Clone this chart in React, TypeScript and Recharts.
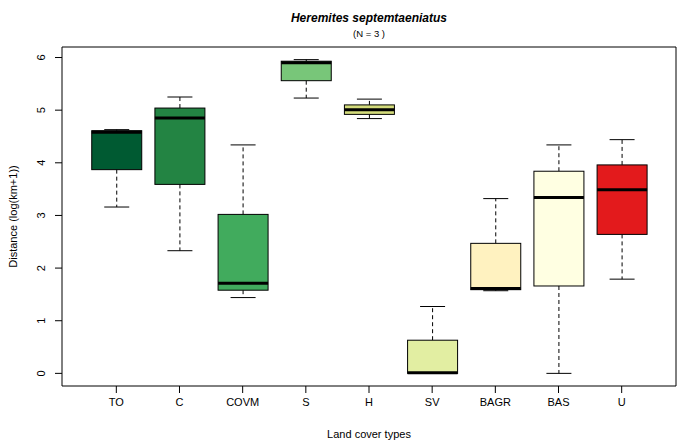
import React from 'react';
import { ComposedChart, Bar, XAxis, YAxis, ReferenceArea } from 'recharts';

const categories = ['TO', 'C', 'COVM', 'S', 'H', 'SV', 'BAGR', 'BAS', 'U'];
const mins = [3.16, 2.33, 1.44, 5.23, 4.84, 0.0, 1.57, 0.0, 1.79];
const q1s = [3.87, 3.59, 1.58, 5.56, 4.92, 0.0, 1.59, 1.66, 2.64];
const medians = [4.58, 4.85, 1.71, 5.9, 5.01, 0.01, 1.61, 3.34, 3.49];
const q3s = [4.61, 5.04, 3.02, 5.93, 5.1, 0.63, 2.47, 3.84, 3.96];
const maxs = [4.63, 5.25, 4.34, 5.96, 5.21, 1.27, 3.32, 4.34, 4.44];
const colors = ['#005a32', '#238443', '#41ab5d', '#78c679', '#d4dc7c', '#e2eea2', '#fff2c0', '#ffffe2', '#e31a1c'];
const yTicks = [0, 1, 2, 3, 4, 5, 6];
const xTicks = [1, 2, 3, 4, 5, 6, 7, 8, 9];

const title = 'Heremites septemtaeniatus';
const subtitle = '(N = 3 )';
const xTitle = 'Land cover types';
const yTitle = 'Distance (log(km+1))';

const data = categories.map((name, i) => ({
  name,
  pos: i + 1,
  range: [mins[i], maxs[i]],
  min: mins[i],
  q1: q1s[i],
  median: medians[i],
  q3: q3s[i],
  max: maxs[i],
  color: colors[i],
}));

const FONT = 'Liberation Sans, Arial, Helvetica, sans-serif';

const BoxShape = (props: any) => {
  const { x, y, width, height, payload } = props;
  if (!payload) return null;
  const { min, q1, median, q3, max, color } = payload;
  const span = max - min;
  const py = (v: number) => (span === 0 ? y : y + ((max - v) / span) * height);
  const cx = x + width / 2;
  const capHalf = width / 4;
  const yMax = py(max);
  const yMin = py(min);
  const yQ1 = py(q1);
  const yQ3 = py(q3);
  const yMed = py(median);
  return (
    <g>
      <line x1={cx} x2={cx} y1={yQ3} y2={yMax} stroke="#000" strokeWidth={1} strokeDasharray="4 3" />
      <line x1={cx} x2={cx} y1={yQ1} y2={yMin} stroke="#000" strokeWidth={1} strokeDasharray="4 3" />
      <line x1={cx - capHalf} x2={cx + capHalf} y1={yMax} y2={yMax} stroke="#000" strokeWidth={1} />
      <line x1={cx - capHalf} x2={cx + capHalf} y1={yMin} y2={yMin} stroke="#000" strokeWidth={1} />
      <rect x={x} y={yQ3} width={width} height={Math.max(yQ1 - yQ3, 0)} fill={color} stroke="#000" strokeWidth={1} />
      <line x1={x} x2={x + width} y1={yMed} y2={yMed} stroke="#000" strokeWidth={3} />
    </g>
  );
};

const YTick = (props: any) => {
  const { x, y, payload } = props;
  const bx = x - 8;
  return (
    <text x={bx} y={y} transform={`rotate(-90, ${bx}, ${y})`} textAnchor="middle" fontSize={11} fontFamily={FONT} fill="#000">
      {payload.value}
    </text>
  );
};

const XTick = (props: any) => {
  const { x, y, payload } = props;
  return (
    <text x={x} y={y + 11} textAnchor="middle" fontSize={11} fontFamily={FONT} fill="#000">
      {categories[payload.value - 1]}
    </text>
  );
};

const YLabel = (props: any) => {
  const { viewBox } = props;
  const lx = 17;
  const ly = viewBox.y + viewBox.height / 2;
  return (
    <text x={lx} y={ly} transform={`rotate(-90, ${lx}, ${ly})`} textAnchor="middle" fontSize={11} fontFamily={FONT} fill="#000">
      {yTitle}
    </text>
  );
};

const XLabel = (props: any) => {
  const { viewBox } = props;
  const lx = viewBox.x + viewBox.width / 2;
  return (
    <text x={lx} y={437.5} textAnchor="middle" fontSize={11} fontFamily={FONT} fill="#000">
      {xTitle}
    </text>
  );
};

export default function App() {
  return (
    <div style={{ position: 'absolute', left: 0, top: 0, width: 677, height: 441, background: '#fff' }}>
      <div style={{ position: 'absolute', left: 62, width: 614, top: 11, textAlign: 'center', fontFamily: FONT, fontSize: 12, fontWeight: 'bold', fontStyle: 'italic', lineHeight: '14px' }}>
        {title}
      </div>
      <div style={{ position: 'absolute', left: 62, width: 614, top: 28, textAlign: 'center', fontFamily: FONT, fontSize: 9.5, lineHeight: '12px' }}>
        {subtitle}
      </div>
      <ComposedChart
        width={677}
        height={441}
        data={data}
        margin={{ top: 47, right: 1, bottom: 0, left: 0 }}
        barCategoryGap={0}
      >
        <XAxis
          type="number"
          dataKey="pos"
          domain={[0.14, 9.86]}
          ticks={xTicks}
          allowDataOverflow
          height={55}
          tickSize={7}
          tickLine={{ stroke: '#000' }}
          axisLine={false}
          tick={<XTick />}
          interval={0}
          label={<XLabel />}
        />
        <YAxis
          type="number"
          domain={[-0.24, 6.2]}
          ticks={yTicks}
          allowDataOverflow
          width={62}
          tickSize={7}
          tickLine={{ stroke: '#000' }}
          axisLine={false}
          tick={<YTick />}
          interval={0}
          label={<YLabel />}
        />
        <ReferenceArea x1={0.14} x2={9.86} y1={-0.24} y2={6.2} fill="none" stroke="#000" strokeWidth={1} ifOverflow="visible" />
        <Bar dataKey="range" barSize={50} shape={<BoxShape />} isAnimationActive={false} />
      </ComposedChart>
    </div>
  );
}
